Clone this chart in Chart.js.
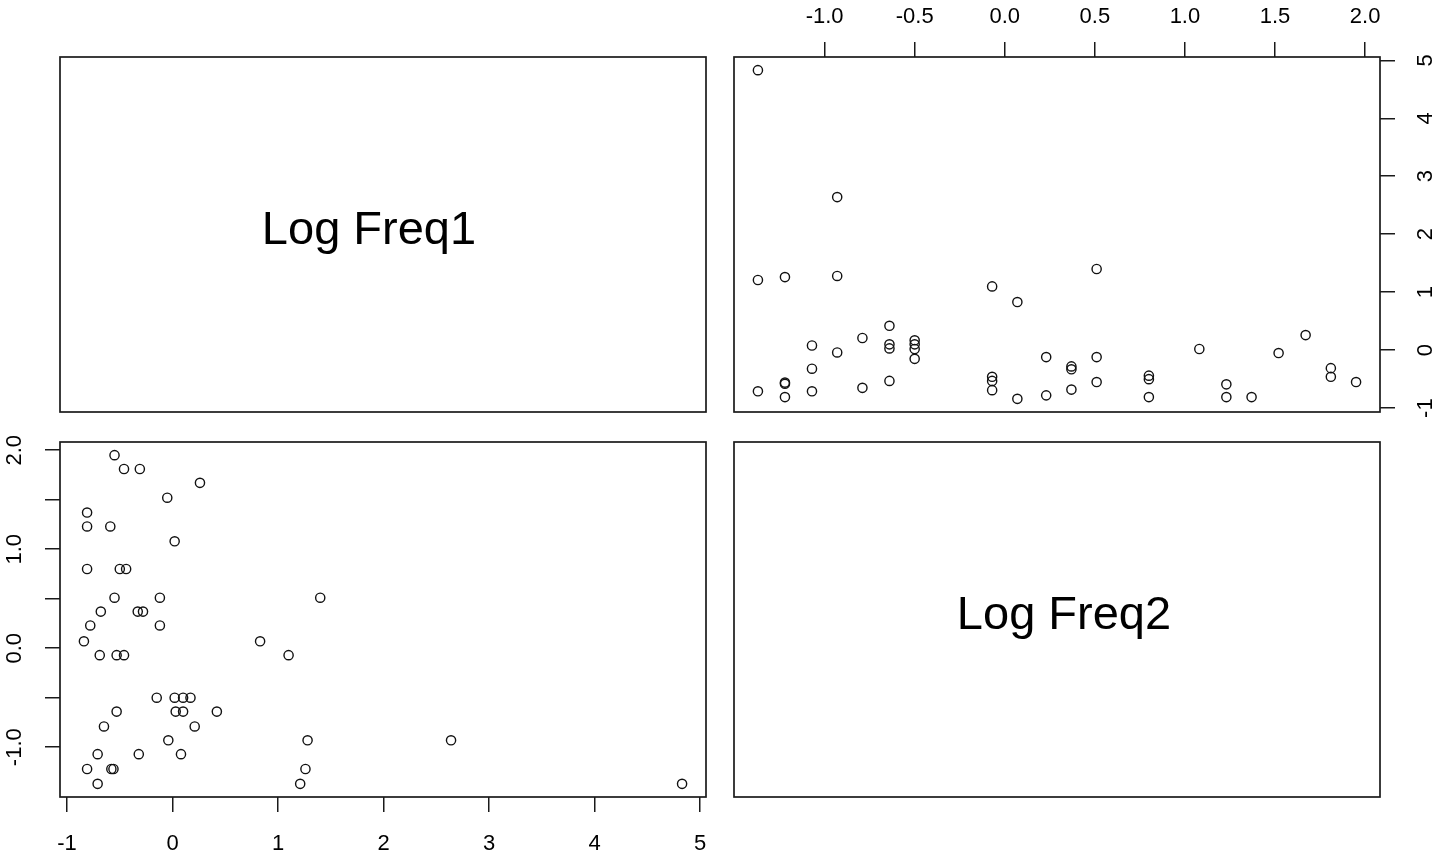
<!DOCTYPE html>
<html>
<head>
<meta charset="utf-8">
<title>Log Freq pairs</title>
<script src="https://cdn.jsdelivr.net/npm/chart.js@4.4.1/dist/chart.umd.min.js"></script>
<style>
  html, body { margin:0; padding:0; background:#fff; }
  body { width:1435px; height:858px; position:relative; overflow:hidden; }
  .panel { position:absolute; }
  .panel canvas { display:block; }
</style>
</head>
<body>
<div class="panel" style="left:0;top:0"><canvas id="p11" width="712" height="420"></canvas></div>
<div class="panel" style="left:728px;top:0"><canvas id="p12" width="707" height="420"></canvas></div>
<div class="panel" style="left:0;top:430px"><canvas id="p21" width="712" height="428"></canvas></div>
<div class="panel" style="left:728px;top:430px"><canvas id="p22" width="707" height="428"></canvas></div>
<script>
// --- dados ---
const varNames = ['Log Freq1', 'Log Freq2'];
const logFreq1 = [4.83, 1.21, -0.71, 1.26, -0.56, -0.58, -0.81, 0.08, -0.32, -0.71,
                  2.64, 1.28, -0.04, 0.21, -0.65, 0.42, 0.10, 0.03, -0.53, 0.17,
                  0.10, 0.02, -0.15, 1.10, -0.46, -0.53, -0.69, 0.83, -0.84, -0.12,
                  -0.78, -0.28, -0.33, -0.68, 1.40, -0.12, -0.55, -0.44, -0.50, -0.81,
                  0.02, -0.59, -0.81, -0.81, -0.05, 0.26, -0.31, -0.46, -0.55];
const logFreq2 = [-1.37, -1.37, -1.37, -1.22, -1.22, -1.22, -1.22, -1.07, -1.07, -1.07,
                  -0.93, -0.93, -0.93, -0.79, -0.79, -0.64, -0.64, -0.64, -0.64, -0.50,
                  -0.50, -0.50, -0.50, -0.07, -0.07, -0.07, -0.07, 0.07, 0.07, 0.23,
                  0.23, 0.37, 0.37, 0.37, 0.51, 0.51, 0.51, 0.80, 0.80, 0.80,
                  1.08, 1.23, 1.23, 1.37, 1.52, 1.67, 1.81, 1.81, 1.95];
const freq1Ticks = [-1, 0, 1, 2, 3, 4, 5];
const freq1BottomLabels = ['-1', '0', '1', '2', '3', '4', '5'];
const freq1SideLabels = ['-1', '0', '1', '2', '3', '4', '5'];
const freq2Ticks = [-1, -0.5, 0, 0.5, 1, 1.5, 2];
const freq2TopLabels = ['-1.0', '-0.5', '0.0', '0.5', '1.0', '1.5', '2.0'];
const freq2SideLabels = ['-1.0', '', '0.0', '', '1.0', '', '2.0'];

// --- helpers ---
const FONT = '"Liberation Sans", Arial, Helvetica, sans-serif';
function rangeOf(v){ const lo=Math.min(...v), hi=Math.max(...v), d=(hi-lo)*0.04; return [lo-d, hi+d]; }
const r1 = rangeOf(logFreq1), r2 = rangeOf(logFreq2);
function pts(xs, ys){ return xs.map((x,i)=>({x, y: ys[i]})); }

// caixa, título da diagonal e rótulos dos eixos (rotacionados como no R)
const rPanel = {
	id: 'rPanel',
	afterDraw(chart, args, o){
		const {ctx, chartArea:a} = chart;
		ctx.save();
		ctx.strokeStyle = '#1a1a1a'; ctx.lineWidth = 1.7;
		ctx.strokeRect(a.left, a.top, a.right-a.left, a.bottom-a.top);
		ctx.fillStyle = '#000';
		ctx.textBaseline = 'alphabetic';
		if (o.title){
			ctx.font = '47px ' + FONT; ctx.textAlign = 'center';
			ctx.fillText(o.title, (a.left+a.right)/2 + (o.titleDx||0), (a.top+a.bottom)/2 + 9.5);
		}
		ctx.font = '22px ' + FONT;
		const labels = o.labels || {};
		for (const id of Object.keys(labels)){
			const s = chart.scales[id]; if (!s) continue;
			s.ticks.forEach((t, i)=>{
				const text = labels[id][i]; if (!text) return;
				const p = s.getPixelForValue(t.value);
				ctx.save();
				ctx.textAlign = 'center';
				if (s.isHorizontal()){
					const y = s.position === 'bottom' ? a.bottom + 53 : a.top - 34;
					ctx.fillText(text, p, y);
				} else {
					const x = s.position === 'left' ? a.left - 39 : a.right + 52;
					ctx.translate(x, p); ctx.rotate(-Math.PI/2);
					ctx.fillText(text, 0, 0);
				}
				ctx.restore();
			});
		}
		ctx.restore();
	}
};

function axis(pos, range, ticks, size){
	return {
		type:'linear', position:pos, min:range[0], max:range[1],
		afterBuildTicks: s => { s.ticks = ticks.map(v=>({value:v})); },
		afterFit: s => { if (s.isHorizontal()) s.height = size; else s.width = size; },
		ticks:{ display:false, autoSkip:false },
		grid:{ drawOnChartArea:false, drawTicks:true, tickLength:15, color:'#1a1a1a', tickColor:'#1a1a1a', lineWidth:1.5 },
		border:{ display:false }
	};
}
function hidden(range){ return { type:'linear', display:false, min:range[0], max:range[1] }; }

function makeChart(id, cfg){
	return new Chart(document.getElementById(id), {
		type:'scatter',
		data:{ datasets: cfg.data ? [{
			data: cfg.data, pointStyle:'circle', pointRadius:4.6, pointHoverRadius:4.6,
			borderColor:'#111', borderWidth:1.4, backgroundColor:'rgba(0,0,0,0)'
		}] : [] },
		options:{
			responsive:false, animation:false, events:[],
			layout:{ padding: cfg.padding },
			plugins:{ legend:{display:false}, tooltip:{enabled:false}, rPanel: cfg.panel },
			scales: cfg.scales
		},
		plugins:[rPanel]
	});
}

// diagonal: nomes das variáveis
makeChart('p11', {
	padding:{ left:60, right:6, top:57, bottom:8 },
	scales:{ x: hidden(r1), y: hidden(r1) },
	panel:{ title: varNames[0], titleDx:-14 }
});
makeChart('p22', {
	padding:{ left:6, right:55, top:12, bottom:61 },
	scales:{ x: hidden(r2), y: hidden(r2) },
	panel:{ title: varNames[1], titleDx:7 }
});

// acima da diagonal: x = Freq2 (eixo no topo), y = Freq1 (eixo à direita)
makeChart('p12', {
	data: pts(logFreq2, logFreq1),
	padding:{ left:6, right:0, top:0, bottom:8 },
	scales:{ x: axis('top', r2, freq2Ticks, 57), y: axis('right', r1, freq1Ticks, 55) },
	panel:{ labels:{ x: freq2TopLabels, y: freq1SideLabels } }
});

// abaixo da diagonal: x = Freq1 (eixo embaixo), y = Freq2 (eixo à esquerda)
makeChart('p21', {
	data: pts(logFreq1, logFreq2),
	padding:{ left:0, right:6, top:12, bottom:0 },
	scales:{ x: axis('bottom', r1, freq1Ticks, 61), y: axis('left', r2, freq2Ticks, 60) },
	panel:{ labels:{ x: freq1BottomLabels, y: freq2SideLabels } }
});
</script>
</body>
</html>
